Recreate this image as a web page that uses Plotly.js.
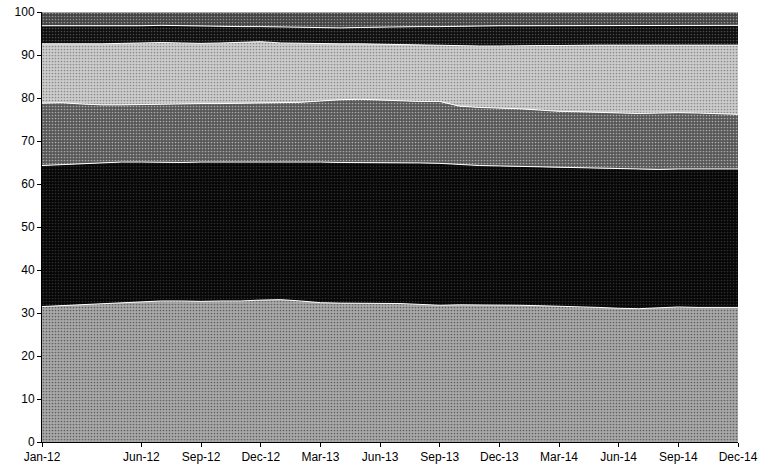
<!DOCTYPE html>
<html>
<head>
<meta charset="utf-8">
<script src="https://cdn.plot.ly/plotly-3.0.1.min.js"></script>
<style>html,body{margin:0;padding:0;background:#fff;}#chart{width:779px;height:468px;}</style>
</head>
<body>
<div id="chart"></div>
<script>
const months = ["Jan-12","Feb-12","Mar-12","Apr-12","May-12","Jun-12","Jul-12","Aug-12","Sep-12","Oct-12","Nov-12","Dec-12",
"Jan-13","Feb-13","Mar-13","Apr-13","May-13","Jun-13","Jul-13","Aug-13","Sep-13","Oct-13","Nov-13","Dec-13",
"Jan-14","Feb-14","Mar-14","Apr-14","May-14","Jun-14","Jul-14","Aug-14","Sep-14","Oct-14","Nov-14","Dec-14"];
const tickLabels = ["Jan-12","Jun-12","Sep-12","Dec-12","Mar-13","Jun-13","Sep-13","Dec-13","Mar-14","Jun-14","Sep-14","Dec-14"];

const layer1 = [31.5,31.7,31.9,32.1,32.4,32.6,32.8,32.8,32.7,32.8,32.8,33.0,33.1,32.8,32.4,32.3,32.3,32.3,32.2,32.0,31.8,31.9,31.9,31.8,31.8,31.7,31.6,31.5,31.3,31.1,31.0,31.2,31.4,31.3,31.3,31.3];
const layer2 = [32.8,32.8,32.9,32.9,32.7,32.5,32.2,32.2,32.4,32.3,32.4,32.2,32.1,32.3,32.7,32.7,32.7,32.7,32.8,32.9,33.0,32.6,32.4,32.4,32.3,32.3,32.3,32.3,32.4,32.4,32.4,32.2,32.1,32.2,32.2,32.2];
const layer3 = [14.5,14.4,13.8,13.4,13.3,13.4,13.6,13.6,13.6,13.6,13.6,13.6,13.7,13.9,14.2,14.6,14.7,14.5,14.3,14.3,14.4,13.6,13.5,13.5,13.4,13.2,13.0,13.0,13.0,13.1,13.0,13.1,13.1,13.0,12.9,12.7];
const layer4 = [13.8,13.7,13.9,14.2,14.3,14.3,14.3,14.2,14.0,14.1,14.2,14.3,13.9,13.7,13.3,13.0,12.9,13.0,13.1,13.1,13.0,14.0,14.3,14.4,14.7,15.0,15.3,15.5,15.6,15.7,15.9,15.7,15.7,15.8,15.9,16.1];
const layer5 = [4.2,4.2,4.2,4.1,4.1,4.0,4.0,4.0,4.1,3.9,3.6,3.5,3.7,3.7,3.7,3.7,3.8,4.0,4.2,4.3,4.4,4.6,4.6,4.7,4.6,4.6,4.7,4.6,4.6,4.5,4.5,4.6,4.5,4.6,4.6,4.6];
const layer6 = [3.2,3.2,3.3,3.3,3.2,3.2,3.1,3.2,3.2,3.3,3.4,3.4,3.5,3.6,3.7,3.7,3.6,3.5,3.4,3.4,3.4,3.3,3.3,3.2,3.2,3.2,3.1,3.1,3.1,3.2,3.2,3.2,3.2,3.1,3.1,3.1];

const layers = [layer1, layer2, layer3, layer4, layer5, layer6];
const fills = ["#a9a9a9", "#060606", "#565656", "#cdcdcd", "#0d0d0d", "#424242"];
const fgs = ["#606060", "#2e2e2e", "#a8a8a8", "#8a8a8a", "#4a4a4a", "#909090"];

const traces = layers.map((vals, i) => ({
  type: "scatter",
  mode: "lines",
  x: months,
  y: vals,
  stackgroup: "one",
  line: {color: "#ffffff", width: 1},
  fillcolor: fills[i],
  fillpattern: {shape: ".", bgcolor: fills[i], fgcolor: fgs[i], size: 3, solidity: 0.25},
  hoverinfo: "skip",
  showlegend: false
}));

const layout = {
  width: 779, height: 468,
  margin: {l: 42, r: 41, t: 12, b: 26},
  paper_bgcolor: "#ffffff",
  plot_bgcolor: "#ffffff",
  font: {family: "Liberation Sans, Arial, sans-serif", size: 12, color: "#000"},
  xaxis: {
    type: "category",
    range: [0, 35],
    tickmode: "array",
    tickvals: tickLabels,
    ticktext: tickLabels,
    showgrid: false, zeroline: false,
    showline: true, linecolor: "#000", linewidth: 1,
    ticks: "outside", ticklen: 4, tickcolor: "#000",
    tickfont: {size: 12}
  },
  yaxis: {
    range: [0, 100],
    tickvals: [0,10,20,30,40,50,60,70,80,90,100],
    showgrid: false, zeroline: false,
    showline: true, linecolor: "#000", linewidth: 1,
    ticks: "outside", ticklen: 4, tickcolor: "#000",
    tickfont: {size: 12}
  }
};

Plotly.newPlot("chart", traces, layout, {displayModeBar: false, staticPlot: true});
</script>
</body>
</html>
